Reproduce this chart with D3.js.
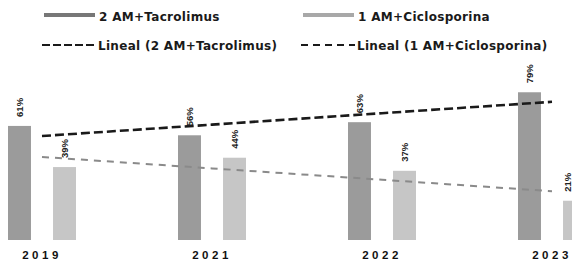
<!DOCTYPE html>
<html><head><meta charset="utf-8">
<script src="https://cdn.jsdelivr.net/npm/d3@7"></script>
<style>body{margin:0;background:#fff}svg{display:block}</style>
</head><body>
<svg id="c" width="572" height="263"></svg>
<script>
const categories = ["2019", "2021", "2022", "2023"];
const seriesNames = ["2 AM+Tacrolimus", "1 AM+Ciclosporina"];
const tacrolimus = [61, 56, 63, 79];
const ciclosporina = [39, 44, 37, 21];
const trendNames = ["Lineal (2 AM+Tacrolimus)", "Lineal (1 AM+Ciclosporina)"];

const svg = d3.select("#c");
const font = "'Liberation Sans', Arial, sans-serif";
const legFont = "'DejaVu Sans', Verdana, sans-serif";
const colors = ["#9b9b9b", "#c6c6c6"];
const trendColors = ["#1a1a1a", "#8a8a8a"];

const x = d3.scaleBand().domain(categories).range([-43, 637]).paddingInner(0.6).paddingOuter(0.3);
const xs = d3.scaleBand().domain(seriesNames).range([0, x.bandwidth()]).paddingInner(0.49);
const y = d3.scaleLinear().domain([0, 100]).range([240, 53]);

const data = [tacrolimus, ciclosporina];

seriesNames.forEach((s, si) => {
  svg.append("g").selectAll("rect").data(data[si]).join("rect")
    .attr("x", (d, i) => x(categories[i]) + xs(s))
    .attr("y", d => y(d))
    .attr("width", xs.bandwidth())
    .attr("height", d => y(0) - y(d))
    .attr("fill", colors[si]);
});

// trend lines (least squares, like Excel linear trendline)
function fit(vals) {
  const xsI = vals.map((_, i) => i + 1);
  const mx = d3.mean(xsI), my = d3.mean(vals);
  const b = d3.sum(xsI.map((xi, i) => (xi - mx) * (vals[i] - my))) / d3.sum(xsI.map(xi => (xi - mx) ** 2));
  const a = my - b * mx;
  return xsI.map(xi => a + b * xi);
}
const cx = c => x(c) + x.bandwidth() / 2;
const line = d3.line().x((d, i) => cx(categories[i])).y(d => y(d));
svg.append("path").datum(fit(ciclosporina)).attr("d", line)
  .attr("fill", "none").attr("stroke", trendColors[1]).attr("stroke-width", 2).attr("stroke-dasharray", "7,6");
svg.append("path").datum(fit(tacrolimus)).attr("d", line)
  .attr("fill", "none").attr("stroke", trendColors[0]).attr("stroke-width", 2.6).attr("stroke-dasharray", "9,4");

// value labels (rotated)
seriesNames.forEach((s, si) => {
  svg.append("g").selectAll("text").data(data[si]).join("text")
    .attr("transform", (d, i) => {
      let px = x(categories[i]) + xs(s) + xs.bandwidth() / 2 + 3.5;
      px = Math.min(px, 571);
      return `translate(${px},${y(d) - 9}) rotate(-90)`;
    })
    .attr("font-family", font).attr("font-size", 9.5).attr("font-weight", 700).attr("fill", "#222")
    .text(d => d + "%");
});

// x axis labels
const ax = svg.append("g").attr("transform", "translate(0,240)")
  .call(d3.axisBottom(x).tickSize(0).tickPadding(11));
ax.select(".domain").remove();
ax.selectAll("text").attr("font-family", font).attr("font-size", 11.5).attr("font-weight", 700)
  .attr("letter-spacing", "3.5px").attr("fill", "#111");

// legend
const lg = svg.append("g").attr("font-family", legFont).attr("font-size", 12).attr("font-weight", 700)
  .attr("letter-spacing", "0.3px").attr("fill", "#1a1a1a");
const legX = [44, 303];
seriesNames.forEach((s, si) => {
  lg.append("rect").attr("x", legX[si]).attr("y", 13).attr("width", 51).attr("height", 4).attr("fill", si ? "#a8a8a8" : "#777");
  lg.append("text").attr("x", legX[si] + 55).attr("y", 20.5).text(s);
});
trendNames.forEach((s, si) => {
  lg.append("line").attr("x1", legX[si] - 2).attr("x2", legX[si] + 52).attr("y1", 45).attr("y2", 45)
    .attr("stroke", "#1a1a1a").attr("stroke-width", 2.2).attr("stroke-dasharray", si ? "7,5" : "8,3");
  lg.append("text").attr("x", legX[si] + 54).attr("y", 49.5).text(s);
});
</script>
</body></html>
